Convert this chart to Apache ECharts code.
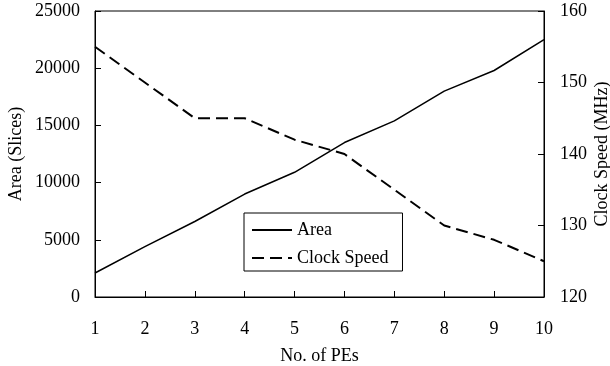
<!DOCTYPE html>
<html>
<head>
<meta charset="utf-8">
<script src="https://cdn.jsdelivr.net/npm/echarts@6/dist/echarts.min.js"></script>
<style>html,body{margin:0;padding:0;background:#fff}#c{width:610px;height:366px}</style>
</head>
<body>
<div id="c"></div>
<script>
const pes = [1, 2, 3, 4, 5, 6, 7, 8, 9, 10];
const area = [2100, 4400, 6600, 9000, 10900, 13500, 15400, 18000, 19800, 22500];
const clock = [155, 150, 145, 145, 142, 140, 135, 130, 128, 125];

const font = 'Liberation Serif';
const fs = 18;
const chart = echarts.init(document.getElementById('c'));
const axisCommon = {
  axisLine: { show: true, lineStyle: { color: '#000', width: 1 } },
  axisTick: { show: true, inside: true, length: 6, lineStyle: { color: '#000' } },
  splitLine: { show: false },
  axisLabel: { color: '#000', fontFamily: font, fontSize: fs, formatter: v => String(v) },
  nameTextStyle: { color: '#000', fontFamily: font, fontSize: fs },
  nameLocation: 'middle',
  nameMoveOverlap: false
};
chart.setOption({
  animation: false,
  grid: { left: 95, right: 66, top: 11, bottom: 69, show: true, borderColor: '#000', borderWidth: 1,
          containLabel: false, outerBoundsMode: 'none' },
  legend: {
    orient: 'vertical', left: 244, top: 213,
    borderColor: '#000', borderWidth: 1, borderRadius: 0,
    padding: [8, 14, 4, 7], itemGap: 10, itemWidth: 40, itemHeight: 14,
    itemStyle: { opacity: 0, borderWidth: 0 },
    textStyle: { color: '#000', fontFamily: font, fontSize: fs },
    data: ['Area', 'Clock Speed']
  },
  xAxis: Object.assign({}, axisCommon, {
    type: 'value', min: 1, max: 10, interval: 1,
    name: 'No. of PEs', nameGap: 50,
    axisLabel: Object.assign({}, axisCommon.axisLabel, { margin: 23 })
  }),
  yAxis: [
    Object.assign({}, axisCommon, {
      type: 'value', min: 0, max: 25000, interval: 5000,
      name: 'Area (Slices)', nameGap: 70, nameRotate: 90,
      axisLabel: Object.assign({}, axisCommon.axisLabel, { margin: 15 })
    }),
    Object.assign({}, axisCommon, {
      type: 'value', min: 120, max: 160, interval: 10, position: 'right',
      name: 'Clock Speed (MHz)', nameGap: 49, nameRotate: 90,
      axisLabel: Object.assign({}, axisCommon.axisLabel, { margin: 16 })
    })
  ],
  series: [
    { name: 'Area', type: 'line', yAxisIndex: 0, symbol: 'none',
      lineStyle: { color: '#000', width: 1.5 },
      itemStyle: { color: '#000' },
      data: pes.map((p, i) => [p, area[i]]) },
    { name: 'Clock Speed', type: 'line', yAxisIndex: 1, symbol: 'none',
      lineStyle: { color: '#000', width: 2, type: [12, 6] },
      itemStyle: { color: '#000' },
      data: pes.map((p, i) => [p, clock[i]]) }
  ]
});
</script>
</body>
</html>
